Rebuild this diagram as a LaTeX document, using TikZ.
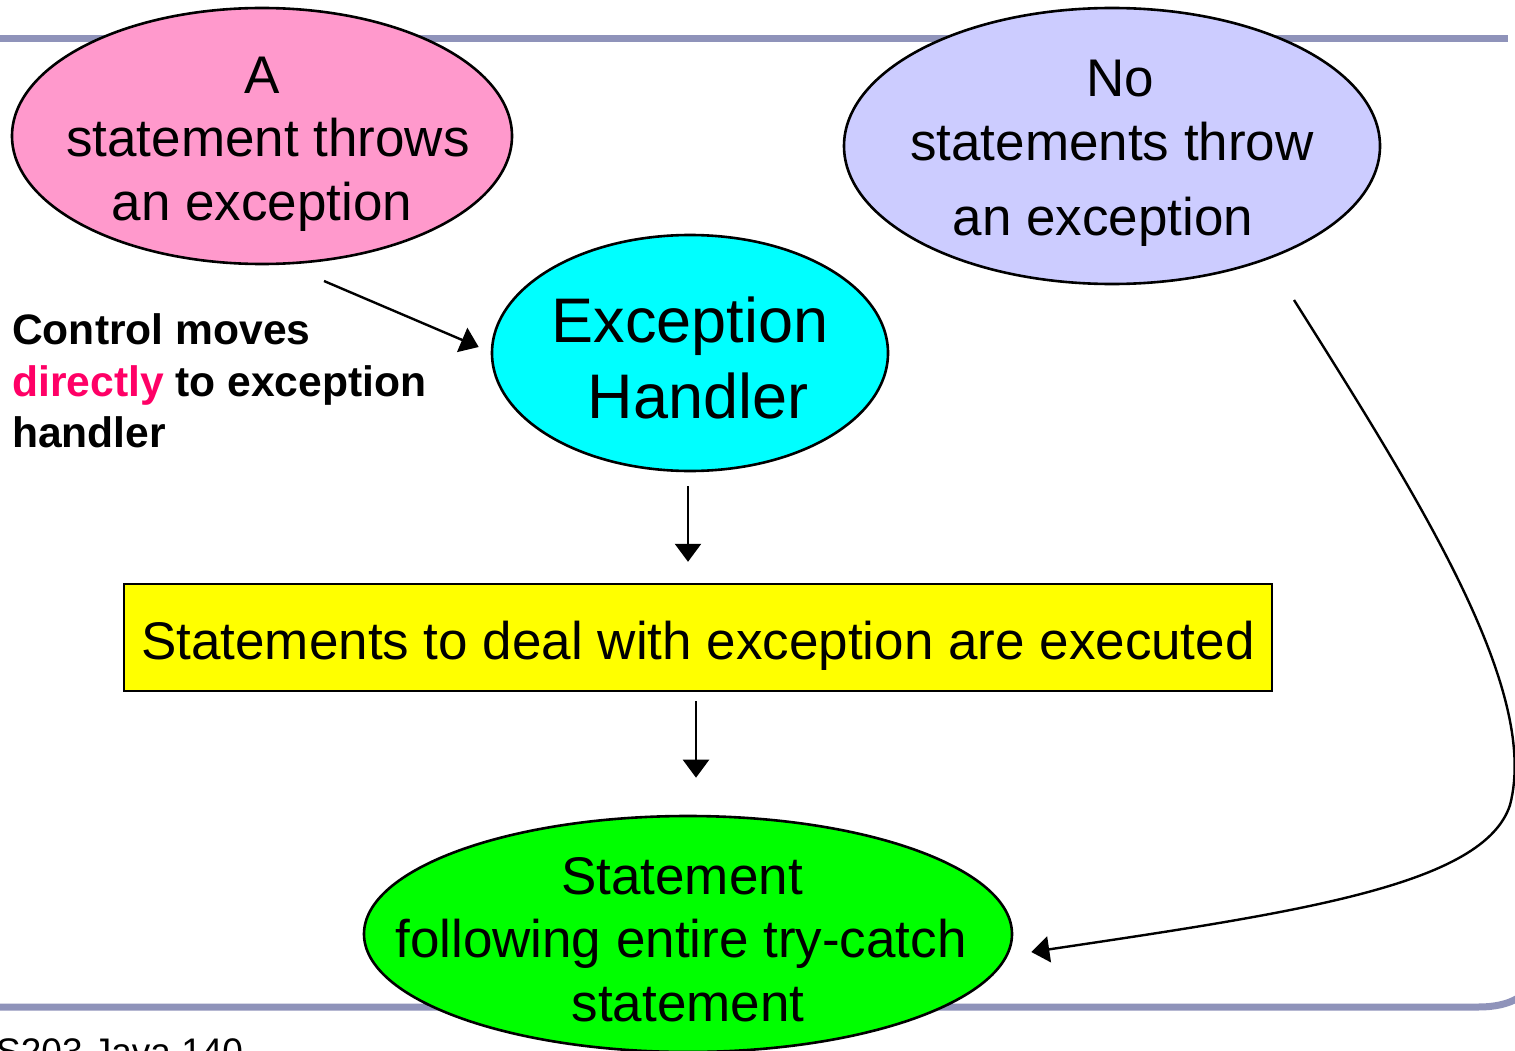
\documentclass[tikz,border=0pt]{standalone}
\usepackage{fontspec}
\setmainfont{Liberation Sans}
\usetikzlibrary{shapes.geometric,arrows.meta}
\definecolor{rulegray}{HTML}{8F93BA}
\definecolor{pinkfill}{HTML}{FF99CC}
\definecolor{lavfill}{HTML}{CCCCFF}
\definecolor{cyanfill}{HTML}{00FFFF}
\definecolor{yelfill}{HTML}{FFFF00}
\definecolor{grnfill}{HTML}{00FF00}
\definecolor{hot}{HTML}{FF0066}
\tikzset{
  blob/.style={ellipse, draw=black, line width=2.6pt, inner sep=0pt},
  % text boxes are cap-height tall, so a node's centre is the middle of its capitals
  bigtxt/.style={inner sep=0pt, anchor=center, text height=38pt, text depth=0pt, font=\fontsize{53pt}{63pt}\selectfont},
  hugetxt/.style={inner sep=0pt, anchor=center, text height=45pt, text depth=0pt, font=\fontsize{63pt}{76pt}\selectfont},
  sidetxt/.style={inner sep=0pt, anchor=base west, font=\fontsize{42.6pt}{52pt}\selectfont\bfseries},
  arr/.style={draw=black, line width=2.4pt, -{Triangle[width=26pt,length=18pt]}},
  rule/.style={draw=rulegray, line width=7pt}
}
\begin{document}
\begin{tikzpicture}[x=1pt,y=-1pt]
\useasboundingbox (0,0) rectangle (1515,1051);
\clip (0,0) rectangle (1515,1051);
\fill[white] (0,0) rectangle (1515,1051);

% slide frame rules
\draw[rule] (0,39) -- (1508,39);
\draw[rule] (0,1007) -- (1478,1007) .. controls (1495,1007) and (1508,1004) .. (1518,998);

% outcome ellipses
\node[blob, fill=pinkfill, minimum width=500pt, minimum height=256pt] (pink) at (262,136) {};
\node[bigtxt] (pinkA) at (262,75) {A};
\node[bigtxt] (pinkB) at (268,138) {statement throws};
\node[bigtxt] (pinkC) at (262,202) {an exception};

\node[blob, fill=lavfill, minimum width=536pt, minimum height=276pt] (lav) at (1112,146) {};
\node[bigtxt] (lavA) at (1120,78) {No};
\node[bigtxt] (lavB) at (1112,142) {statements throw};
\node[bigtxt] (lavC) at (1103,217) {an exception};

\node[blob, fill=cyanfill, minimum width=396pt, minimum height=236pt] (cyan) at (690,353) {};
\node[hugetxt] (cyanA) at (690,320) {Exception};
\node[hugetxt] (cyanB) at (698,396) {Handler};

% handler body
\node[draw=black, line width=2.4pt, fill=yelfill, minimum width=1148pt, minimum height=107pt, inner sep=0pt] (box) at (698,637.5) {};
\node[bigtxt] (boxtxt) at (698,640) {Statements to deal with exception are executed};

\node[blob, fill=grnfill, minimum width=648pt, minimum height=236pt] (grn) at (688,934) {};
\node[bigtxt] (grnA) at (682,875) {Statement};
\node[bigtxt] (grnB) at (681,938) {following entire try-catch};
\node[bigtxt] (grnC) at (688,1002) {statement};

% side note
\node[sidetxt] (noteA) at (12,344) {Control moves};
\node[sidetxt] (noteB) at (12,396) {\textcolor{hot}{directly} to exception};
\node[sidetxt] (noteC) at (12,447) {handler};

% footer
\node[inner sep=0pt, anchor=base west, font=\fontsize{37pt}{44pt}\selectfont] (foot) at (-4,1064) {S203 Java 140};

% connectors
\draw[arr] ([shift={(62,145)}]pink.center) -- ([shift={(-12,-6)}]cyan.west);
\draw[arr] ([shift={(-2,14)}]cyan.south) -- ([shift={(-10,-21)}]box.north);
\draw[arr] ([shift={(-2,9)}]box.south) -- ([shift={(8,-37)}]grn.north);
\draw[arr] ([shift={(182,154)}]lav.center)
  .. controls (1420,500) and (1540,690) .. (1510,805)
  .. controls (1484,885) and (1300,912) .. ([shift={(18,18)}]grn.east);
\end{tikzpicture}
\end{document}
